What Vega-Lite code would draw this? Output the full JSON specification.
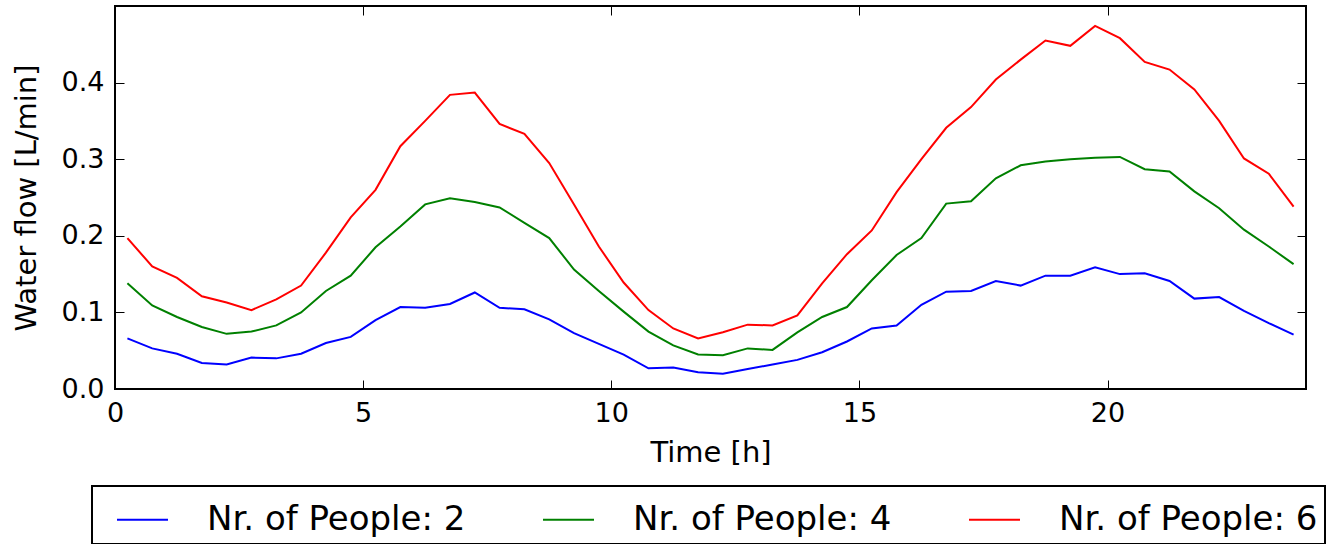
{
  "$schema": "https://vega.github.io/schema/vega-lite/v6.json",
  "width": 1191,
  "height": 383,
  "autosize": {"type": "none"},
  "padding": {"left": 115, "top": 6, "right": 28, "bottom": 155},
  "background": "white",
  "config": {
    "font": "DejaVu Sans",
    "view": {"stroke": "black", "strokeWidth": 2},
    "axis": {
      "labelFont": "DejaVu Sans",
      "titleFont": "DejaVu Sans",
      "labelFontSize": 27,
      "titleFontSize": 29,
      "titleFontWeight": "normal",
      "labelColor": "black",
      "titleColor": "black",
      "tickColor": "black",
      "tickWidth": 1,
      "tickSize": -9,
      "labelFlush": false,
      "domain": false,
      "grid": false
    },
    "legend": {"strokeColor": "black", "strokeWidth": 2, "cornerRadius": 0}
  },
  "resolve": {"axis": {"x": "independent", "y": "independent"}},
  "data": {
    "values": [
      {"t": 0.25, "p": "Nr. of People: 2", "v": 0.066},
      {"t": 0.75, "p": "Nr. of People: 2", "v": 0.053},
      {"t": 1.25, "p": "Nr. of People: 2", "v": 0.046},
      {"t": 1.75, "p": "Nr. of People: 2", "v": 0.034},
      {"t": 2.25, "p": "Nr. of People: 2", "v": 0.032},
      {"t": 2.75, "p": "Nr. of People: 2", "v": 0.041},
      {"t": 3.25, "p": "Nr. of People: 2", "v": 0.040},
      {"t": 3.75, "p": "Nr. of People: 2", "v": 0.046},
      {"t": 4.25, "p": "Nr. of People: 2", "v": 0.060},
      {"t": 4.75, "p": "Nr. of People: 2", "v": 0.068},
      {"t": 5.25, "p": "Nr. of People: 2", "v": 0.090},
      {"t": 5.75, "p": "Nr. of People: 2", "v": 0.107},
      {"t": 6.25, "p": "Nr. of People: 2", "v": 0.106},
      {"t": 6.75, "p": "Nr. of People: 2", "v": 0.111},
      {"t": 7.25, "p": "Nr. of People: 2", "v": 0.126},
      {"t": 7.75, "p": "Nr. of People: 2", "v": 0.106},
      {"t": 8.25, "p": "Nr. of People: 2", "v": 0.104},
      {"t": 8.75, "p": "Nr. of People: 2", "v": 0.091},
      {"t": 9.25, "p": "Nr. of People: 2", "v": 0.073},
      {"t": 9.75, "p": "Nr. of People: 2", "v": 0.059},
      {"t": 10.25, "p": "Nr. of People: 2", "v": 0.045},
      {"t": 10.75, "p": "Nr. of People: 2", "v": 0.027},
      {"t": 11.25, "p": "Nr. of People: 2", "v": 0.028},
      {"t": 11.75, "p": "Nr. of People: 2", "v": 0.022},
      {"t": 12.25, "p": "Nr. of People: 2", "v": 0.020},
      {"t": 12.75, "p": "Nr. of People: 2", "v": 0.026},
      {"t": 13.25, "p": "Nr. of People: 2", "v": 0.032},
      {"t": 13.75, "p": "Nr. of People: 2", "v": 0.038},
      {"t": 14.25, "p": "Nr. of People: 2", "v": 0.048},
      {"t": 14.75, "p": "Nr. of People: 2", "v": 0.062},
      {"t": 15.25, "p": "Nr. of People: 2", "v": 0.079},
      {"t": 15.75, "p": "Nr. of People: 2", "v": 0.083},
      {"t": 16.25, "p": "Nr. of People: 2", "v": 0.110},
      {"t": 16.75, "p": "Nr. of People: 2", "v": 0.127},
      {"t": 17.25, "p": "Nr. of People: 2", "v": 0.128},
      {"t": 17.75, "p": "Nr. of People: 2", "v": 0.141},
      {"t": 18.25, "p": "Nr. of People: 2", "v": 0.135},
      {"t": 18.75, "p": "Nr. of People: 2", "v": 0.148},
      {"t": 19.25, "p": "Nr. of People: 2", "v": 0.148},
      {"t": 19.75, "p": "Nr. of People: 2", "v": 0.159},
      {"t": 20.25, "p": "Nr. of People: 2", "v": 0.150},
      {"t": 20.75, "p": "Nr. of People: 2", "v": 0.151},
      {"t": 21.25, "p": "Nr. of People: 2", "v": 0.141},
      {"t": 21.75, "p": "Nr. of People: 2", "v": 0.118},
      {"t": 22.25, "p": "Nr. of People: 2", "v": 0.120},
      {"t": 22.75, "p": "Nr. of People: 2", "v": 0.102},
      {"t": 23.25, "p": "Nr. of People: 2", "v": 0.086},
      {"t": 23.75, "p": "Nr. of People: 2", "v": 0.071},
      {"t": 0.25, "p": "Nr. of People: 4", "v": 0.138},
      {"t": 0.75, "p": "Nr. of People: 4", "v": 0.109},
      {"t": 1.25, "p": "Nr. of People: 4", "v": 0.094},
      {"t": 1.75, "p": "Nr. of People: 4", "v": 0.081},
      {"t": 2.25, "p": "Nr. of People: 4", "v": 0.072},
      {"t": 2.75, "p": "Nr. of People: 4", "v": 0.075},
      {"t": 3.25, "p": "Nr. of People: 4", "v": 0.083},
      {"t": 3.75, "p": "Nr. of People: 4", "v": 0.100},
      {"t": 4.25, "p": "Nr. of People: 4", "v": 0.128},
      {"t": 4.75, "p": "Nr. of People: 4", "v": 0.148},
      {"t": 5.25, "p": "Nr. of People: 4", "v": 0.185},
      {"t": 5.75, "p": "Nr. of People: 4", "v": 0.212},
      {"t": 6.25, "p": "Nr. of People: 4", "v": 0.241},
      {"t": 6.75, "p": "Nr. of People: 4", "v": 0.249},
      {"t": 7.25, "p": "Nr. of People: 4", "v": 0.244},
      {"t": 7.75, "p": "Nr. of People: 4", "v": 0.237},
      {"t": 8.25, "p": "Nr. of People: 4", "v": 0.217},
      {"t": 8.75, "p": "Nr. of People: 4", "v": 0.197},
      {"t": 9.25, "p": "Nr. of People: 4", "v": 0.156},
      {"t": 9.75, "p": "Nr. of People: 4", "v": 0.128},
      {"t": 10.25, "p": "Nr. of People: 4", "v": 0.101},
      {"t": 10.75, "p": "Nr. of People: 4", "v": 0.075},
      {"t": 11.25, "p": "Nr. of People: 4", "v": 0.057},
      {"t": 11.75, "p": "Nr. of People: 4", "v": 0.045},
      {"t": 12.25, "p": "Nr. of People: 4", "v": 0.044},
      {"t": 12.75, "p": "Nr. of People: 4", "v": 0.053},
      {"t": 13.25, "p": "Nr. of People: 4", "v": 0.051},
      {"t": 13.75, "p": "Nr. of People: 4", "v": 0.074},
      {"t": 14.25, "p": "Nr. of People: 4", "v": 0.094},
      {"t": 14.75, "p": "Nr. of People: 4", "v": 0.107},
      {"t": 15.25, "p": "Nr. of People: 4", "v": 0.142},
      {"t": 15.75, "p": "Nr. of People: 4", "v": 0.175},
      {"t": 16.25, "p": "Nr. of People: 4", "v": 0.197},
      {"t": 16.75, "p": "Nr. of People: 4", "v": 0.242},
      {"t": 17.25, "p": "Nr. of People: 4", "v": 0.245},
      {"t": 17.75, "p": "Nr. of People: 4", "v": 0.275},
      {"t": 18.25, "p": "Nr. of People: 4", "v": 0.292},
      {"t": 18.75, "p": "Nr. of People: 4", "v": 0.297},
      {"t": 19.25, "p": "Nr. of People: 4", "v": 0.300},
      {"t": 19.75, "p": "Nr. of People: 4", "v": 0.302},
      {"t": 20.25, "p": "Nr. of People: 4", "v": 0.303},
      {"t": 20.75, "p": "Nr. of People: 4", "v": 0.287},
      {"t": 21.25, "p": "Nr. of People: 4", "v": 0.284},
      {"t": 21.75, "p": "Nr. of People: 4", "v": 0.258},
      {"t": 22.25, "p": "Nr. of People: 4", "v": 0.236},
      {"t": 22.75, "p": "Nr. of People: 4", "v": 0.208},
      {"t": 23.25, "p": "Nr. of People: 4", "v": 0.186},
      {"t": 23.75, "p": "Nr. of People: 4", "v": 0.163},
      {"t": 0.25, "p": "Nr. of People: 6", "v": 0.197},
      {"t": 0.75, "p": "Nr. of People: 6", "v": 0.160},
      {"t": 1.25, "p": "Nr. of People: 6", "v": 0.145},
      {"t": 1.75, "p": "Nr. of People: 6", "v": 0.121},
      {"t": 2.25, "p": "Nr. of People: 6", "v": 0.113},
      {"t": 2.75, "p": "Nr. of People: 6", "v": 0.103},
      {"t": 3.25, "p": "Nr. of People: 6", "v": 0.117},
      {"t": 3.75, "p": "Nr. of People: 6", "v": 0.135},
      {"t": 4.25, "p": "Nr. of People: 6", "v": 0.178},
      {"t": 4.75, "p": "Nr. of People: 6", "v": 0.224},
      {"t": 5.25, "p": "Nr. of People: 6", "v": 0.260},
      {"t": 5.75, "p": "Nr. of People: 6", "v": 0.317},
      {"t": 6.25, "p": "Nr. of People: 6", "v": 0.350},
      {"t": 6.75, "p": "Nr. of People: 6", "v": 0.384},
      {"t": 7.25, "p": "Nr. of People: 6", "v": 0.387},
      {"t": 7.75, "p": "Nr. of People: 6", "v": 0.346},
      {"t": 8.25, "p": "Nr. of People: 6", "v": 0.333},
      {"t": 8.75, "p": "Nr. of People: 6", "v": 0.295},
      {"t": 9.25, "p": "Nr. of People: 6", "v": 0.241},
      {"t": 9.75, "p": "Nr. of People: 6", "v": 0.186},
      {"t": 10.25, "p": "Nr. of People: 6", "v": 0.139},
      {"t": 10.75, "p": "Nr. of People: 6", "v": 0.103},
      {"t": 11.25, "p": "Nr. of People: 6", "v": 0.079},
      {"t": 11.75, "p": "Nr. of People: 6", "v": 0.066},
      {"t": 12.25, "p": "Nr. of People: 6", "v": 0.074},
      {"t": 12.75, "p": "Nr. of People: 6", "v": 0.084},
      {"t": 13.25, "p": "Nr. of People: 6", "v": 0.083},
      {"t": 13.75, "p": "Nr. of People: 6", "v": 0.096},
      {"t": 14.25, "p": "Nr. of People: 6", "v": 0.138},
      {"t": 14.75, "p": "Nr. of People: 6", "v": 0.176},
      {"t": 15.25, "p": "Nr. of People: 6", "v": 0.207},
      {"t": 15.75, "p": "Nr. of People: 6", "v": 0.257},
      {"t": 16.25, "p": "Nr. of People: 6", "v": 0.300},
      {"t": 16.75, "p": "Nr. of People: 6", "v": 0.341},
      {"t": 17.25, "p": "Nr. of People: 6", "v": 0.368},
      {"t": 17.75, "p": "Nr. of People: 6", "v": 0.404},
      {"t": 18.25, "p": "Nr. of People: 6", "v": 0.430},
      {"t": 18.75, "p": "Nr. of People: 6", "v": 0.455},
      {"t": 19.25, "p": "Nr. of People: 6", "v": 0.448},
      {"t": 19.75, "p": "Nr. of People: 6", "v": 0.474},
      {"t": 20.25, "p": "Nr. of People: 6", "v": 0.458},
      {"t": 20.75, "p": "Nr. of People: 6", "v": 0.427},
      {"t": 21.25, "p": "Nr. of People: 6", "v": 0.417},
      {"t": 21.75, "p": "Nr. of People: 6", "v": 0.391},
      {"t": 22.25, "p": "Nr. of People: 6", "v": 0.350},
      {"t": 22.75, "p": "Nr. of People: 6", "v": 0.301},
      {"t": 23.25, "p": "Nr. of People: 6", "v": 0.281},
      {"t": 23.75, "p": "Nr. of People: 6", "v": 0.238}
    ]
  },
  "layer": [
    {
      "mark": {"type": "line", "strokeWidth": 2},
      "encoding": {
        "x": {
          "field": "t", "type": "quantitative",
          "scale": {"domain": [0, 24], "nice": false, "zero": false},
          "axis": {"values": [0, 5, 10, 15, 20], "title": "Time [h]", "labelPadding": 20, "titlePadding": 12}
        },
        "y": {
          "field": "v", "type": "quantitative",
          "scale": {"domain": [0, 0.5], "nice": false},
          "axis": {"values": [0, 0.1, 0.2, 0.3, 0.4], "format": ".1f", "title": "Water flow [L/min]", "labelPadding": 20, "titlePadding": 20}
        },
        "color": {
          "field": "p", "type": "nominal",
          "scale": {"domain": ["Nr. of People: 2", "Nr. of People: 4", "Nr. of People: 6"], "range": ["#0000ff", "#008000", "#ff0000"]},
          "legend": {
            "orient": "none", "legendX": -23, "legendY": 480,
            "direction": "horizontal", "columns": 3, "title": null,
            "symbolType": "stroke", "symbolSize": 2601, "symbolStrokeWidth": 2,
            "symbolOffset": 17,
            "labelFontSize": 34, "labelFont": "DejaVu Sans", "labelColor": "black", "labelLimit": 0,
            "labelOffset": 38, "columnPadding": 59, "padding": 7
          }
        }
      }
    },
    {
      "mark": {"type": "line", "strokeOpacity": 0},
      "encoding": {
        "x": {
          "field": "t", "type": "quantitative",
          "scale": {"domain": [0, 24], "nice": false, "zero": false},
          "axis": {"orient": "top", "values": [0, 5, 10, 15, 20], "labels": false, "title": null}
        },
        "y": {
          "field": "v", "type": "quantitative",
          "scale": {"domain": [0, 0.5], "nice": false},
          "axis": {"orient": "right", "values": [0, 0.1, 0.2, 0.3, 0.4], "labels": false, "title": null}
        },
        "detail": {"field": "p", "type": "nominal"}
      }
    }
  ]
}
